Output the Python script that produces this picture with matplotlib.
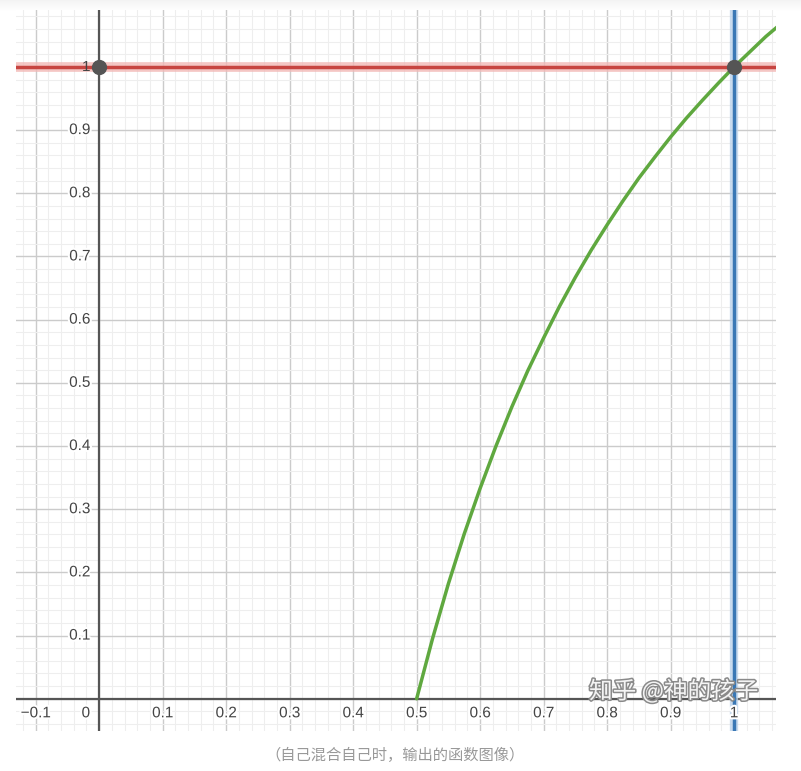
import matplotlib
matplotlib.use("Agg")
import matplotlib.pyplot as plt
import matplotlib.patheffects as pe
import numpy as np

plt.rcParams["font.family"] = ["Noto Sans CJK SC", "DejaVu Sans"]

# curva (x, y)
curva_x = [0.50, 0.525, 0.55, 0.575, 0.60, 0.625, 0.65, 0.675, 0.70, 0.725,
           0.75, 0.775, 0.80, 0.825, 0.85, 0.875, 0.90, 0.925, 0.95, 0.975,
           1.00, 1.025, 1.05, 1.07]
curva_y = [0.00, 0.095, 0.182, 0.261, 0.333, 0.400, 0.462, 0.519, 0.571, 0.621,
           0.667, 0.710, 0.750, 0.788, 0.824, 0.857, 0.889, 0.919, 0.947, 0.974,
           1.000, 1.024, 1.048, 1.065]

linha_h = 1.0     # reta horizontal y = 1
linha_v = 1.0     # reta vertical x = 1
pontos_x = [0.0, 1.0]
pontos_y = [1.0, 1.0]

xticks = [-0.1, 0, 0.1, 0.2, 0.3, 0.4, 0.5, 0.6, 0.7, 0.8, 0.9, 1]
xrotulos = ["\u22120.1", "0", "0.1", "0.2", "0.3", "0.4", "0.5", "0.6",
            "0.7", "0.8", "0.9", "1"]
yticks = [0.1, 0.2, 0.3, 0.4, 0.5, 0.6, 0.7, 0.8, 0.9, 1]
yrotulos = ["0.1", "0.2", "0.3", "0.4", "0.5", "0.6", "0.7", "0.8", "0.9", "1"]

legenda = "（自己混合自己时，输出的函数图像）"
marca = "知乎 @神的孩子"

fig = plt.figure(figsize=(8.01, 7.71), dpi=100)
fig.patch.set_facecolor("white")

# faixa cinza suave no topo (sombra da captura)
topo = fig.add_axes([0, 1 - 12 / 771, 1, 12 / 771])
topo.imshow(np.linspace(0.955, 1.0, 12)[:, None], cmap="gray", vmin=0, vmax=1,
            aspect="auto", extent=(0, 1, 0, 1))
topo.axis("off")

ax = fig.add_axes([16 / 801, 40 / 771, 760 / 801, 721 / 771])
ax.set_xlim(-0.131, 1.066)
ax.set_ylim(-0.051, 1.090)

# grade
ax.set_xticks(np.arange(-0.1, 1.06, 0.1))
ax.set_yticks(np.arange(0.0, 1.09, 0.1))
ax.set_xticks(np.arange(-0.12, 1.07, 0.02), minor=True)
ax.set_yticks(np.arange(-0.04, 1.09, 0.02), minor=True)
ax.grid(which="major", color="#cbcbcb", lw=1.0)
ax.grid(which="minor", color="#eeeeee", lw=0.8)
ax.tick_params(which="both", length=0, labelbottom=False, labelleft=False)
for s in ax.spines.values():
    s.set_visible(False)
ax.set_axisbelow(True)

# eixos
ax.axhline(0, color="#555555", lw=1.6, zorder=2)
ax.axvline(0, color="#555555", lw=1.6, zorder=2)

# retas
ax.axhline(linha_h, color="#f2b8b6", lw=7, alpha=0.8, zorder=3)
ax.axhline(linha_h, color="#c74440", lw=2.5, zorder=3)
ax.axvline(linha_v, color="#bcd3ea", lw=6, alpha=0.8, zorder=3)
ax.axvline(linha_v, color="#3a78b5", lw=2.5, zorder=3)
ax.plot(curva_x, curva_y, color="#5fa83f", lw=2.5, zorder=4,
        solid_capstyle="round")
ax.scatter(pontos_x, pontos_y, s=100, color="#555555", zorder=6)

halo = [pe.withStroke(linewidth=3, foreground="white")]
for x, r in zip(xticks, xrotulos):
    dx = -0.021 if x == 0 else 0
    ax.text(x + dx, -0.023, r, ha="center", va="center", fontsize=11,
            color="#444444", family="Liberation Sans", path_effects=halo,
            zorder=5)
for y, r in zip(yticks, yrotulos):
    ax.text(-0.014, y, r, ha="right", va="center", fontsize=11,
            color="#444444", family="Liberation Sans",
            path_effects=None if y == 1 else halo, zorder=7)

ax.text(0.905, 0.012, marca, ha="center", va="center", fontsize=17,
        color="#f4f4f4",
        path_effects=[pe.withStroke(linewidth=2.2, foreground="#8a8a8a")],
        zorder=8)

fig.text(395 / 801, 1 - 755 / 771, legenda, ha="center", va="center",
         fontsize=11, color="#999999")

fig.savefig("out.png", dpi=100, facecolor="white")
